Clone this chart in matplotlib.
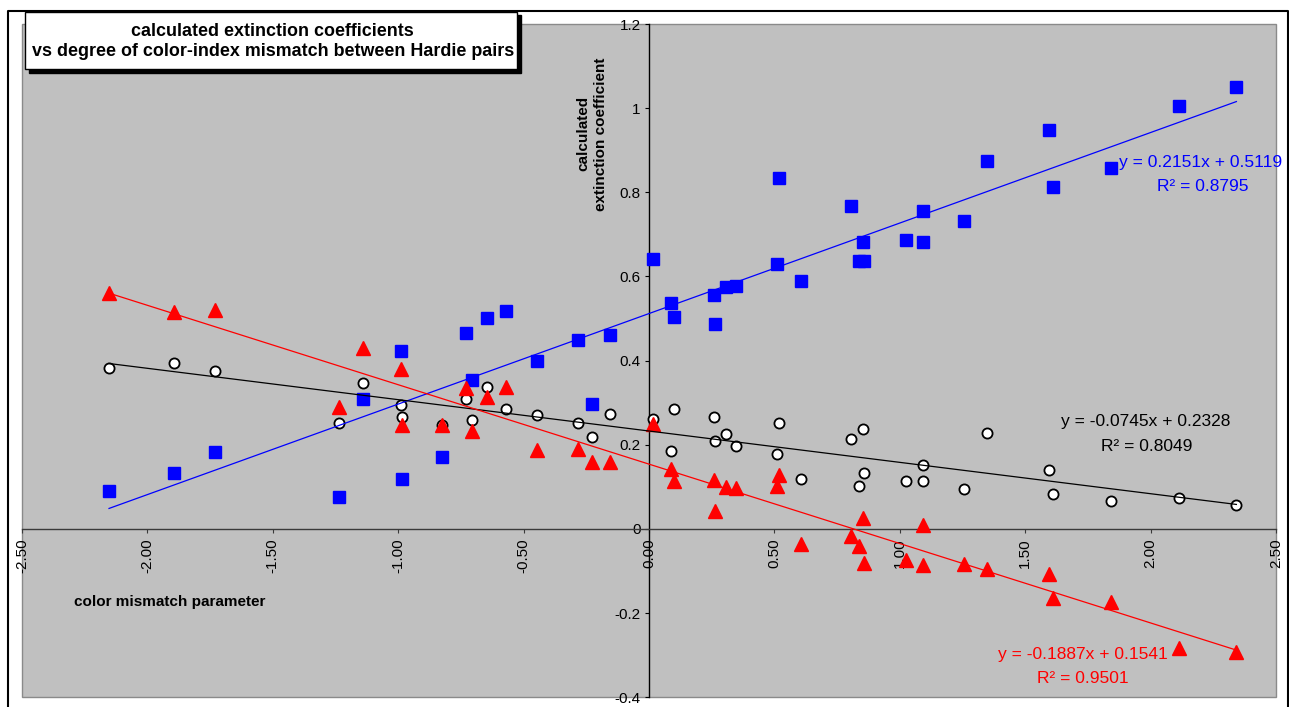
import matplotlib
matplotlib.use("Agg")
import matplotlib.pyplot as plt
from matplotlib.patches import Rectangle
from matplotlib.lines import Line2D
from matplotlib.ticker import FixedLocator, FuncFormatter
import numpy as np

plt.rcParams['font.family'] = ['Liberation Sans', 'DejaVu Sans']

# ---------------- data ----------------
color_mismatch = [-2.153, -1.894, -1.732, -1.237, -1.141, -0.989, -0.984, -0.824, -0.731, -0.705,
                  -0.644, -0.570, -0.445, -0.284, -0.229, -0.156, 0.017, 0.088, 0.099, 0.261,
                  0.263, 0.308, 0.346, 0.510, 0.518, 0.605, 0.804, 0.836, 0.852, 0.857,
                  1.025, 1.093, 1.093, 1.255, 1.346, 1.595, 1.610, 1.842, 2.112, 2.342]

blue_coef = [0.090, 0.132, 0.183, 0.077, 0.308, 0.424, 0.118, 0.170, 0.466, 0.353,
             0.501, 0.517, 0.398, 0.449, 0.296, 0.460, 0.642, 0.537, 0.504, 0.556,
             0.488, 0.575, 0.578, 0.629, 0.835, 0.590, 0.767, 0.636, 0.681, 0.636,
             0.686, 0.755, 0.681, 0.733, 0.874, 0.948, 0.812, 0.857, 1.005, 1.051]

white_coef = [0.382, 0.395, 0.375, 0.253, 0.346, 0.295, 0.267, 0.248, 0.308, 0.260,
              0.337, 0.286, 0.272, 0.253, 0.219, 0.273, 0.261, 0.186, 0.286, 0.267,
              0.208, 0.225, 0.198, 0.179, 0.251, 0.118, 0.215, 0.102, 0.237, 0.132,
              0.113, 0.151, 0.115, 0.096, 0.228, 0.141, 0.083, 0.067, 0.074, 0.057]

red_coef = [0.561, 0.516, 0.521, 0.291, 0.430, 0.379, 0.248, 0.248, 0.335, 0.232,
            0.313, 0.338, 0.187, 0.190, 0.160, 0.158, 0.249, 0.142, 0.114, 0.116,
            0.043, 0.100, 0.097, 0.102, 0.129, -0.035, -0.017, -0.040, 0.027, -0.080,
            -0.074, 0.010, -0.086, -0.083, -0.094, -0.108, -0.164, -0.173, -0.284, -0.292]

# trendline parameters (slope, intercept, R^2) as printed on the chart
blue_fit = (0.2151, 0.5119, 0.8795)
white_fit = (-0.0745, 0.2328, 0.8049)
red_fit = (-0.1887, 0.1541, 0.9501)

x_ticks = [-2.5, -2.0, -1.5, -1.0, -0.5, 0.0, 0.5, 1.0, 1.5, 2.0, 2.5]
y_ticks = [-0.4, -0.2, 0.0, 0.2, 0.4, 0.6, 0.8, 1.0, 1.2]

title_lines = ["calculated extinction coefficients",
               "vs degree of color-index mismatch between Hardie pairs"]

# ---------------- figure ----------------
W, H = 1289, 707
fig = plt.figure(figsize=(W / 100, H / 100), dpi=100)
fig.patch.set_facecolor('white')

def fx(px):
    return px / W

def fy(py):
    return 1 - py / H

ax = fig.add_axes([fx(22), fy(697.3), fx(1276) - fx(22), fy(24) - fy(697.3)])
ax.set_facecolor('#C0C0C0')
ax.set_xlim(-2.5, 2.5)
ax.set_ylim(-0.4, 1.2)

# plot-area border
ax.add_patch(Rectangle((0, 0), 1, 1, transform=ax.transAxes, fill=False,
                       edgecolor='#8a8a8a', lw=1.0, clip_on=False, zorder=0.5))

for s in ['top', 'right']:
    ax.spines[s].set_visible(False)
ax.spines['left'].set_position(('data', 0))
ax.spines['bottom'].set_position(('data', 0))
ax.spines['left'].set_color('black')
ax.spines['left'].set_linewidth(1.0)
ax.spines['bottom'].set_color('#3a3a3a')
ax.spines['bottom'].set_linewidth(1.0)

ax.xaxis.set_major_locator(FixedLocator(x_ticks))
ax.yaxis.set_major_locator(FixedLocator(y_ticks))
ax.xaxis.set_major_formatter(FuncFormatter(lambda v, p: f"{v:.2f}".replace('-0.00', '0.00')))
ax.yaxis.set_major_formatter(FuncFormatter(lambda v, p: f"{v:g}" if abs(v) > 1e-9 else "0"))
ax.tick_params(axis='x', direction='out', length=3, width=0.8, color='#3a3a3a',
               labelsize=11, pad=3.5, labelrotation=90)
ax.tick_params(axis='y', direction='out', length=3, width=0.8, color='black',
               labelsize=11, pad=3)
for lab in ax.get_xticklabels():
    lab.set_va('top')

xs = np.array(color_mismatch)
ax.plot(xs, blue_coef, linestyle='none', marker='s', markersize=8,
        markerfacecolor='#0000FF', markeredgecolor='#0000FF', zorder=3)
ax.plot(xs, white_coef, linestyle='none', marker='o', markersize=7.3,
        markerfacecolor='white', markeredgecolor='black', markeredgewidth=1.3, zorder=4)
ax.plot(xs, red_coef, linestyle='none', marker='^', markersize=9.5,
        markerfacecolor='#FF0000', markeredgecolor='#FF0000', zorder=5)

xline = np.array([xs.min(), xs.max()])
for (m, b, r2), col in [(blue_fit, '#0000FF'), (white_fit, 'black'), (red_fit, '#FF0000')]:
    ax.plot(xline, m * xline + b, color=col, lw=0.9, zorder=6)

def eq_text(m, b):
    sign = '+' if b >= 0 else '-'
    return f"y = {m:.4f}x {sign} {abs(b):.4f}"

eq_fs = 12.5
ax.text(2.201, 0.861, eq_text(*blue_fit[:2]), color='#0000FF', fontsize=eq_fs,
        ha='center', va='baseline', zorder=7)
ax.text(2.209, 0.802, f"R\u00b2 = {blue_fit[2]:.4f}", color='#0000FF', fontsize=eq_fs,
        ha='center', va='baseline', zorder=7)
ax.text(1.982, 0.2455, eq_text(*white_fit[:2]), color='black', fontsize=eq_fs,
        ha='center', va='baseline', zorder=7)
ax.text(1.986, 0.185, f"R\u00b2 = {white_fit[2]:.4f}", color='black', fontsize=eq_fs,
        ha='center', va='baseline', zorder=7)
ax.text(1.730, -0.308, eq_text(*red_fit[:2]), color='#FF0000', fontsize=eq_fs,
        ha='center', va='baseline', zorder=7)
ax.text(1.730, -0.367, f"R\u00b2 = {red_fit[2]:.4f}", color='#FF0000', fontsize=eq_fs,
        ha='center', va='baseline', zorder=7)

# axis titles
ax.text(-0.227, 0.939, "calculated\nextinction coefficient", rotation=90,
        fontsize=11, fontweight='bold', ha='center', va='center',
        multialignment='center', linespacing=1.3, zorder=7)
ax.text(-2.294, -0.173, "color mismatch parameter", fontsize=11, fontweight='bold',
        ha='left', va='center', zorder=7)

# outer chart border (left, top, right)
fig.add_artist(Line2D([fx(8), fx(8), fx(1288), fx(1288)],
                      [fy(710), fy(11), fy(11), fy(710)],
                      color='black', lw=1.5, transform=fig.transFigure))

# title box with shadow
fig.add_artist(Rectangle((fx(29), fy(72.5)), fx(517) - fx(25), fy(12) - fy(69),
                         transform=fig.transFigure, facecolor='black',
                         edgecolor='black', lw=1, zorder=10))
fig.add_artist(Rectangle((fx(25), fy(69)), fx(517) - fx(25), fy(12) - fy(69),
                         transform=fig.transFigure, facecolor='white',
                         edgecolor='black', lw=1, zorder=11))
fig.text(fx(272), fy(35.5), title_lines[0], fontsize=12.9, fontweight='bold',
         ha='center', va='baseline', zorder=12)
fig.text(fx(273.5), fy(56), title_lines[1], fontsize=12.9, fontweight='bold',
         ha='center', va='baseline', zorder=12)

fig.savefig('out.png', dpi=100, facecolor='white')
